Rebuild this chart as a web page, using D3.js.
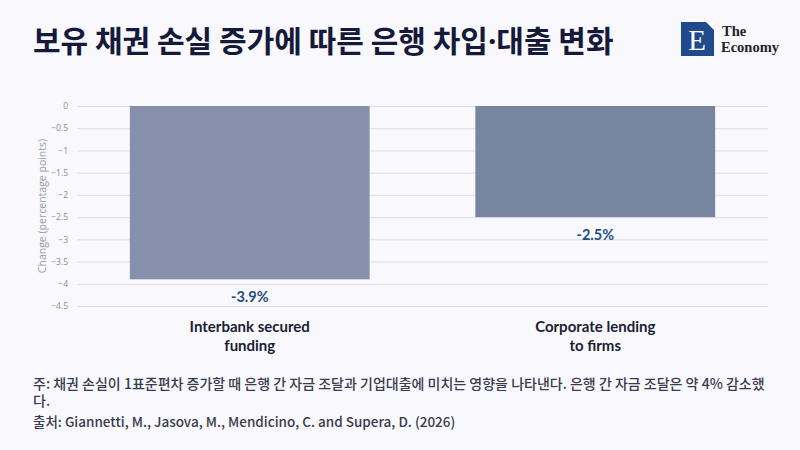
<!DOCTYPE html>
<html><head><meta charset="utf-8">
<script src="https://cdn.jsdelivr.net/npm/d3@7"></script>
<style>
html,body{margin:0;padding:0;background:#f8f8fd;}
svg{display:block;}
</style></head>
<body>
<script>
const categories = ["Interbank secured\nfunding", "Corporate lending\nto firms"];
const values = [-3.9, -2.5];
const valueLabels = ["-3.9%", "-2.5%"];
const barColors = ["#8690ad", "#7885a0"];
const yTicks = [0, -0.5, -1, -1.5, -2, -2.5, -3, -3.5, -4, -4.5];
const titleParts = ["보유 채권 손실 증가에 따른 은행 차입", "·", "대출 변화"];
const noteLines = ["주: 채권 손실이 1표준편차 증가할 때 은행 간 자금 조달과 기업대출에 미치는 영향을 나타낸다. 은행 간 자금 조달은 약 4% 감소했", "다."];
const sourceText = "출처: Giannetti, M., Jasova, M., Mendicino, C. and Supera, D. (2026)";

const W = 800, H = 450;
const svg = d3.select("body").append("svg").attr("width", W).attr("height", H);
svg.append("rect").attr("width", W).attr("height", H).attr("fill", "#f8f8fd");

const KR = "'Noto Sans CJK KR','Noto Sans',sans-serif";

const tt = svg.append("text").attr("x", 33).attr("y", 52)
  .attr("font-family", KR).attr("font-weight", 700).attr("font-size", 30)
  .attr("fill", "#161a3a");
tt.append("tspan").text(titleParts[0]);
tt.append("tspan").attr("font-family", "'Noto Sans',sans-serif").text(titleParts[1]);
tt.append("tspan").text(titleParts[2]);

// logo
const lg = svg.append("g").attr("transform", "translate(681,22)");
lg.append("rect").attr("width", 33).attr("height", 34).attr("fill", "#1f4b8c");
lg.append("path").attr("d", "M25,0 L33,0 L33,8 Z").attr("fill", "#ffffff");
lg.append("text").attr("x", 16).attr("y", 28).attr("text-anchor", "middle")
  .attr("font-family", "'Liberation Serif','DejaVu Serif',serif").attr("font-size", 29)
  .attr("fill", "#ffffff").text("E");
lg.append("text").attr("x", 41).attr("y", 14).attr("font-family", "'Liberation Serif','DejaVu Serif',serif")
  .attr("font-size", 14.5).attr("font-weight", 600).attr("fill", "#222").text("The");
lg.append("text").attr("x", 40).attr("y", 30).attr("font-family", "'Liberation Serif','DejaVu Serif',serif")
  .attr("font-size", 14.5).attr("font-weight", 600).attr("fill", "#222").text("Economy");

const x = d3.scaleBand().domain(categories).range([77, 768]).paddingInner(0.306).paddingOuter(0.153);
const y = d3.scaleLinear().domain([-4.5, 0]).range([306, 106]);

// gridlines + tick labels
const yAxis = d3.axisLeft(y).tickValues(yTicks).tickSize(-(768 - 77)).tickFormat(d => d3.format("")(d));
const ga = svg.append("g").attr("transform", "translate(77,0)").call(yAxis);
ga.select(".domain").remove();
ga.selectAll(".tick line").attr("stroke", "#dcdde3").attr("stroke-width", 1);
ga.selectAll(".tick text").attr("x", -9).attr("fill", "#8a8c98")
  .attr("font-family", "'Open Sans',sans-serif").attr("font-size", 8.5);

svg.append("text").attr("transform", "translate(46,206) rotate(-90)").attr("text-anchor", "middle")
  .attr("font-family", "'Open Sans',sans-serif").attr("font-size", 10.5).attr("fill", "#999aa4")
  .text("Change (percentage points)");

// bars
svg.selectAll("rect.bar").data(values).enter().append("rect").attr("class", "bar")
  .attr("x", (d, i) => x(categories[i])).attr("width", x.bandwidth())
  .attr("y", d => y(0)).attr("height", d => y(d) - y(0))
  .attr("fill", (d, i) => barColors[i]);

// value labels
svg.selectAll("text.val").data(values).enter().append("text").attr("class", "val")
  .attr("x", (d, i) => x(categories[i]) + x.bandwidth() / 2).attr("y", d => y(d) + 23)
  .attr("text-anchor", "middle").attr("font-family", "Lato,'Open Sans',sans-serif")
  .attr("font-weight", 700).attr("font-size", 14.5).attr("fill", "#1f4e7d")
  .text((d, i) => valueLabels[i]);

// category labels
categories.forEach((c, i) => {
  const t = svg.append("text").attr("text-anchor", "middle")
    .attr("font-family", "Lato,'Open Sans',sans-serif").attr("font-weight", 700)
    .attr("font-size", 15).attr("fill", "#1c1d33");
  c.split("\n").forEach((ln, j) => {
    t.append("tspan").attr("x", x(c) + x.bandwidth() / 2).attr("y", 332 + j * 19).text(ln);
  });
});

// notes
const nt = svg.append("text").attr("font-family", KR).attr("font-weight", 500)
  .attr("font-size", 14).attr("fill", "#3a3b4c");
noteLines.forEach((ln, j) => nt.append("tspan").attr("x", 33).attr("y", 389 + j * 17).text(ln));
svg.append("text").attr("x", 33).attr("y", 427).attr("font-family", KR).attr("font-weight", 500)
  .attr("font-size", 13.5).attr("fill", "#3a3b4c").text(sourceText);
</script>
</body></html>
